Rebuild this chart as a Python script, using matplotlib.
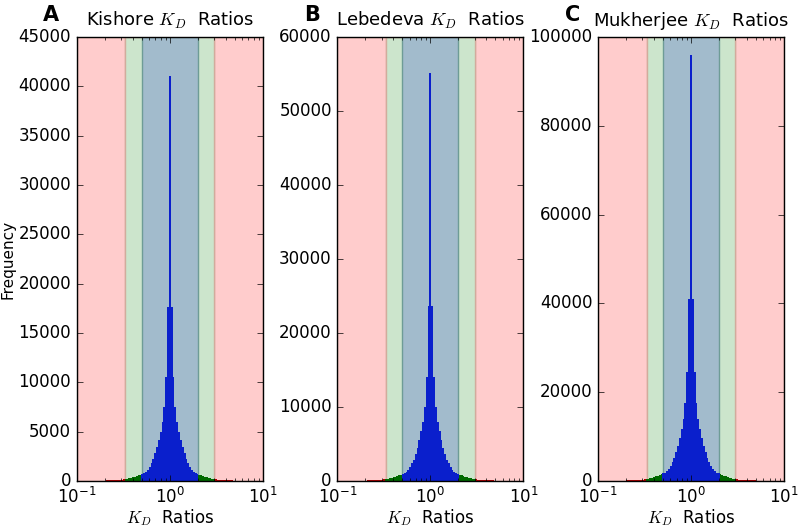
import numpy as np
import matplotlib
matplotlib.use('Agg')
import matplotlib.pyplot as plt

# bin counts, distance from the centre bin (KD ratio = 1) outwards, k = 0..50
kishore_half = [41000, 17600, 10500, 7500, 6000, 5000, 4200, 3400, 2800, 2200,
                1800, 1400, 1150, 950, 820, 720, 640, 580, 520, 450,
                390, 330, 280, 230, 190, 160, 140, 125, 110, 98,
                88, 80, 72, 65, 58, 52, 47, 42, 38, 34,
                31, 28, 25, 23, 21, 19, 18, 16, 15, 14, 13]
lebedeva_half = [55200, 23600, 14000, 10000, 8000, 6700, 5600, 4500, 3700, 2900,
                 2400, 1900, 1550, 1280, 1100, 960, 860, 800, 700, 600,
                 520, 440, 370, 310, 250, 210, 190, 170, 150, 130,
                 118, 107, 96, 87, 78, 70, 63, 56, 50, 45,
                 41, 38, 34, 31, 28, 25, 24, 22, 20, 19, 17]
mukherjee_half = [96000, 41000, 24500, 17500, 14000, 11700, 9800, 8000, 6500, 5100,
                  4200, 3300, 2700, 2200, 1900, 1700, 1500, 1400, 1200, 1050,
                  900, 770, 650, 540, 440, 370, 330, 290, 260, 230,
                  205, 185, 170, 150, 135, 120, 110, 98, 88, 80,
                  72, 65, 60, 54, 49, 45, 42, 38, 35, 33, 30]

names = ['Kishore', 'Lebedeva', 'Mukherjee']
letters = ['A', 'B', 'C']
ylims = [45000, 60000, 100000]
halves = [kishore_half, lebedeva_half, mukherjee_half]

edges = np.logspace(-1, 1, 102)
centers = np.sqrt(edges[:-1] * edges[1:])

plt.style.use('classic')
plt.rcParams['font.size'] = 12
plt.rcParams['figure.facecolor'] = 'white'
plt.rcParams['savefig.facecolor'] = 'white'

fig, axes = plt.subplots(1, 3, figsize=(8, 5.29), dpi=100)
fig.subplots_adjust(left=0.096, right=0.98, bottom=0.0907, top=0.930, wspace=0.40)

cols = []
for c in centers:
    if 0.5 <= c <= 2:
        cols.append('#0a1fcc')
    elif 1 / 3. <= c <= 3:
        cols.append('#006a00')
    else:
        cols.append('#b00000')

for ax, name, let, ym, half in zip(axes, names, letters, ylims, halves):
    half = np.array(half)
    counts = np.concatenate([half[:0:-1], half])
    ax.axvspan(0.1, 1 / 3., facecolor='#ffcccc', edgecolor='#d2ab9c', lw=1)
    ax.axvspan(3, 10, facecolor='#ffcccc', edgecolor='#d2ab9c', lw=1)
    ax.axvspan(1 / 3., 3, facecolor='#cce5cc', edgecolor='#d2ab9c', lw=1)
    ax.axvspan(0.5, 2, facecolor='#a2bbcc', edgecolor='#6e9c96', lw=1)
    ax.bar(edges[:-1], counts, width=np.diff(edges), align='edge',
           color=cols, edgecolor='none', linewidth=0)
    ax.set_xscale('log')
    ax.set_xlim(0.1, 10)
    ax.set_ylim(0, ym)
    ax.tick_params(labelsize=12)
    ax.set_title(name + ' $K_D$  Ratios', fontsize=13, y=1.01)
    ax.set_xlabel('$K_D$  Ratios', fontsize=12, labelpad=0)
    ax.text(-0.138, 1.05, let, transform=ax.transAxes, fontsize=15,
            fontweight='bold', ha='center', va='center')

axes[0].set_ylabel('Frequency', fontsize=11, labelpad=2)

fig.savefig('out.png', dpi=100)
